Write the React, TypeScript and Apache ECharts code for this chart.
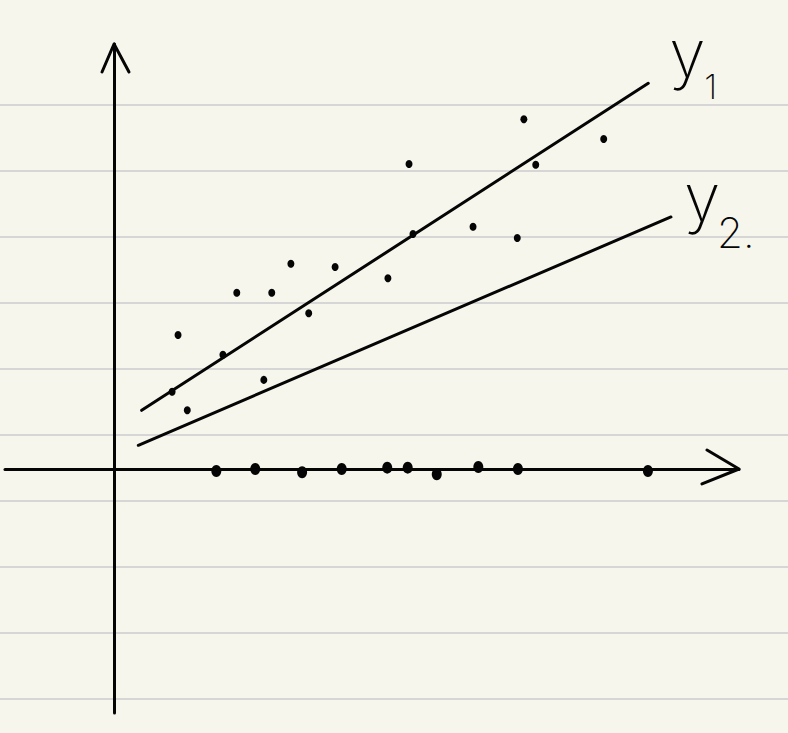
import React, { useEffect, useRef } from "react";
import * as echarts from "echarts";

// ---- data (sketch units: one unit = one ruled-line spacing) ----
const paperLines = [0, 1, 2, 3, 4, 5, 6, 7, 8, 9];

const y1X = [0.419, 8.095];
const y1Y = [0.889, 5.844];
const y2X = [0.368, 8.439];
const y2Y = [0.359, 3.818];

const cloudX = [0.97, 0.88, 1.11, 1.65, 1.86, 2.39, 2.68, 3.35, 2.95, 2.27, 4.15, 4.47, 4.53, 5.44, 6.11, 6.21, 6.39, 7.42];
const cloudY = [2.03, 1.17, 0.89, 1.73, 2.67, 2.67, 3.11, 3.06, 2.36, 1.35, 2.89, 4.62, 3.56, 3.67, 3.5, 5.3, 4.61, 5.0];

const axisDotsX = [1.55, 2.14, 2.85, 3.45, 4.14, 4.45, 4.89, 5.52, 6.12, 8.09];
const axisDotsY = [-0.03, 0.0, -0.05, 0.0, 0.02, 0.02, -0.08, 0.03, 0.0, -0.03];

const xArrowX = [8.985, 9.47, 8.909];
const xArrowY = [0.288, 0.0, -0.227];
const yArrowX = [-0.182, 0.0, 0.227];
const yArrowY = [6.015, 6.439, 6.015];

const X_MIN = -1.652;
const X_MAX = 9.47;
const Y_MIN = -3.697;
const Y_MAX = 6.439;

const labelY1 = ["y", "1"];
const labelY2 = ["y", "2."];

const INK = "#050505";
const PAPER = "#f6f6ec";
const RULE = "#d6d6d6";
const FONT = "Inter";

const pairs = (xs: number[], ys: number[]) => xs.map((x, i) => [x, ys[i]]);

export default function App() {
  const ref = useRef<HTMLDivElement>(null);

  useEffect(() => {
    if (!ref.current) return;
    document.body.style.margin = "0";
    document.body.style.background = PAPER;
    const chart = echarts.init(ref.current, null, { renderer: "svg" });

    const lineBase = {
      type: "line" as const,
      xAxisIndex: 1,
      yAxisIndex: 1,
      showSymbol: false,
      symbol: "none",
      clip: false,
      silent: true,
      lineStyle: { color: INK, width: 3, cap: "round", join: "round" },
    };

    chart.setOption({
      animation: false,
      backgroundColor: PAPER,
      grid: [
        { left: 0, right: 0, top: 105, height: 594, containLabel: false },
        { left: 5, top: 44, width: 734, height: 669, containLabel: false },
      ],
      xAxis: [
        { type: "value", gridIndex: 0, show: false, min: 0, max: 1 },
        {
          type: "value",
          gridIndex: 1,
          min: X_MIN,
          max: X_MAX,
          axisLine: { show: true, onZero: true, lineStyle: { color: INK, width: 3 } },
          axisTick: { show: false },
          axisLabel: { show: false },
          splitLine: { show: false },
        },
      ],
      yAxis: [
        {
          type: "value",
          gridIndex: 0,
          min: paperLines[0],
          max: paperLines[paperLines.length - 1],
          interval: 1,
          axisLine: { show: false },
          axisTick: { show: false },
          axisLabel: { show: false },
          splitLine: { show: true, lineStyle: { color: RULE, width: 2 } },
        },
        {
          type: "value",
          gridIndex: 1,
          min: Y_MIN,
          max: Y_MAX,
          axisLine: { show: true, onZero: true, lineStyle: { color: INK, width: 3 } },
          axisTick: { show: false },
          axisLabel: { show: false },
          splitLine: { show: false },
        },
      ],
      series: [
        { ...lineBase, name: "y1", data: pairs(y1X, y1Y) },
        { ...lineBase, name: "y2", data: pairs(y2X, y2Y) },
        { ...lineBase, name: "xArrow", data: pairs(xArrowX, xArrowY) },
        { ...lineBase, name: "yArrow", data: pairs(yArrowX, yArrowY) },
        {
          type: "scatter",
          xAxisIndex: 1,
          yAxisIndex: 1,
          silent: true,
          symbol: "circle",
          symbolSize: [7, 8],
          itemStyle: { color: INK, opacity: 1 },
          data: pairs(cloudX, cloudY),
        },
        {
          type: "scatter",
          xAxisIndex: 1,
          yAxisIndex: 1,
          silent: true,
          symbol: "circle",
          symbolSize: [10, 12],
          itemStyle: { color: INK, opacity: 1 },
          data: pairs(axisDotsX, axisDotsY),
        },
      ],
    });

    const c = { xAxisIndex: 1, yAxisIndex: 1 };
    const p1 = chart.convertToPixel(c, [y1X[1], y1Y[1]]) as number[];
    const p2 = chart.convertToPixel(c, [y2X[1], y2Y[1]]) as number[];
    const txt = (s: string, x: number, y: number, size: number) => ({
      type: "text",
      x,
      y,
      silent: true,
      style: {
        text: s,
        fill: INK,
        fontFamily: FONT,
        fontSize: size,
        fontWeight: 200,
        align: "left",
        verticalAlign: "middle",
      },
    });
    chart.setOption({
      graphic: [
        txt(labelY1[0], p1[0] + 21, p1[1] - 30, 66),
        txt(labelY1[1], p1[0] + 56, p1[1] + 3, 34),
        txt(labelY2[0], p2[0] + 13, p2[1] - 20, 66),
        txt(labelY2[1], p2[0] + 46, p2[1] + 16, 42),
      ],
    });

    return () => chart.dispose();
  }, []);

  return (
    <div
      ref={ref}
      style={{ position: "fixed", left: 0, top: 0, width: 788, height: 733 }}
    />
  );
}
